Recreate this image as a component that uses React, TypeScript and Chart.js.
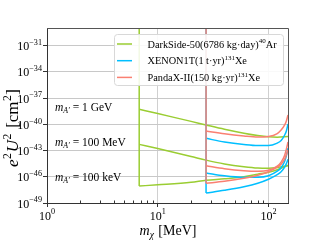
import { useEffect, useRef } from "react";
import { Chart, registerables } from "chart.js";

Chart.register(...registerables);

// ---------- data ----------
const darkSideThreshold = 6.8;
const xenonThreshold = 27.3;
const darkSideMass = [6.8, 10, 20, 27.3, 40, 60, 80, 100, 120, 150];
const darkSide1GeV = [5.25e-39, 1.66e-39, 2.14e-40, 8.32e-41, 2.69e-41, 9.55e-42, 5.13e-42, 3.63e-42, 3.31e-42, 3.98e-42];
const darkSide100MeV = [5.01e-43, 1.66e-43, 2.09e-44, 7.94e-45, 2.95e-45, 1.41e-45, 1.0e-45, 9.55e-46, 1.15e-45, 1.82e-45];
const darkSide100keV = [8.71e-48, 1.2e-47, 2.34e-47, 3.98e-47, 5.89e-47, 1.0e-46, 1.95e-46, 3.31e-46, 6.31e-46, 2.09e-45];
const xenonMass = [27.3, 40, 60, 80, 100, 120, 130, 140, 145, 150];
const pandax1GeV = [1.7e-41, 8.13e-42, 4.57e-42, 3.47e-42, 3.98e-42, 8.71e-42, 2.19e-41, 8.32e-41, 2.4e-40, 1.17e-39];
const xenon1GeV = [2.45e-42, 9.33e-43, 4.79e-43, 3.63e-43, 3.63e-43, 7.08e-43, 1.38e-42, 5.89e-42, 1.7e-41, 1.07e-40];
const pandax100MeV = [1.82e-45, 8.32e-46, 4.9e-46, 4.27e-46, 5.62e-46, 1.62e-45, 4.68e-45, 2.95e-44, 1.45e-43, 9.33e-43];
const xenon100MeV = [2.75e-46, 1.29e-46, 8.71e-47, 8.71e-47, 1.29e-46, 4.27e-46, 1.07e-45, 6.03e-45, 2.51e-44, 1.91e-43];
const pandax100keV = [1.78e-47, 3.02e-47, 6.76e-47, 1.48e-46, 3.72e-46, 1.23e-45, 2.75e-45, 1.02e-44, 3.16e-44, 1.12e-43];
const xenon100keV = [1.38e-48, 2.82e-48, 7.08e-48, 1.78e-47, 5.13e-47, 1.7e-46, 3.72e-46, 1.23e-45, 3.16e-45, 1.02e-44];

const xMin = 1;
const xMax = 150;
const yMin = 1e-49;
const yMax = 1e-29;
const xTickExponents = [0, 1, 2];
const yTickExponents = [-49, -46, -43, -40, -37, -34, -31];
const xMinorTicks = [2, 3, 4, 5, 6, 7, 8, 9, 20, 30, 40, 50, 60, 70, 80, 90];
const mediatorLabels = ["1 GeV", "100 MeV", "100 keV"];

const GREEN = "#9ACD32";
const BLUE = "#00BFFF";
const RED = "#FA8072";
const FONT = '"Liberation Serif", "DejaVu Serif", serif';

type Run = { t: string; it?: boolean; sup?: boolean; sub?: boolean; gap?: number };

function drawRuns(
  ctx: CanvasRenderingContext2D,
  runs: Run[],
  x: number,
  y: number,
  size: number,
  align: "left" | "center" | "right" = "left"
) {
  const setFont = (r: Run) => {
    const s = r.sup || r.sub ? size * 0.68 : size;
    ctx.font = `${r.it ? "italic " : ""}${s}px ${FONT}`;
  };
  let total = 0;
  const widths = runs.map((r) => {
    setFont(r);
    const w = ctx.measureText(r.t).width + (r.gap || 0);
    total += w;
    return w;
  });
  let cx = align === "left" ? x : align === "center" ? x - total / 2 : x - total;
  ctx.fillStyle = "#000";
  ctx.textAlign = "left";
  ctx.textBaseline = "alphabetic";
  runs.forEach((r, i) => {
    setFont(r);
    const dy = r.sup ? -size * 0.42 : r.sub ? size * 0.22 : 0;
    ctx.fillText(r.t, cx, y + dy);
    cx += widths[i];
  });
}

const legendItems: { color: string; runs: Run[] }[] = [
  { color: GREEN, runs: [{ t: "DarkSide-50(6786 kg·day)" }, { t: "40", sup: true }, { t: "Ar" }] },
  { color: BLUE, runs: [{ t: "XENON1T(1 t·yr)" }, { t: "131", sup: true }, { t: "Xe" }] },
  { color: RED, runs: [{ t: "PandaX-II(150 kg·yr)" }, { t: "131", sup: true }, { t: "Xe" }] },
];

const overlayPlugin = {
  id: "overlay",
  afterDatasetsDraw(chart: any) {
    const ctx: CanvasRenderingContext2D = chart.ctx;
    const a = chart.chartArea;
    const xs = chart.scales.x;
    const ys = chart.scales.y;
    ctx.save();

    // top & right frame
    ctx.strokeStyle = "#555";
    ctx.lineWidth = 1;
    ctx.beginPath();
    ctx.moveTo(a.left, Math.round(a.top) + 0.5);
    ctx.lineTo(Math.round(a.right) + 0.5, Math.round(a.top) + 0.5);
    ctx.lineTo(Math.round(a.right) + 0.5, a.bottom);
    ctx.stroke();

    // minor x ticks (inward)
    ctx.strokeStyle = "#333";
    ctx.beginPath();
    xMinorTicks.forEach((v) => {
      const px = Math.round(xs.getPixelForValue(v)) + 0.5;
      ctx.moveTo(px, a.bottom);
      ctx.lineTo(px, a.bottom - 2.5);
    });
    ctx.stroke();

    // legend
    const lx = 114.5, ly = 34.5, lw = 169, lh = 51;
    ctx.beginPath();
    ctx.roundRect(lx, ly, lw, lh, 3);
    ctx.fillStyle = "rgba(255,255,255,0.88)";
    ctx.fill();
    ctx.strokeStyle = "#d8d8d8";
    ctx.stroke();
    legendItems.forEach((item, i) => {
      const cy = 44 + i * 16.7;
      ctx.strokeStyle = item.color;
      ctx.lineWidth = 1.5;
      ctx.beginPath();
      ctx.moveTo(117, cy);
      ctx.lineTo(132, cy);
      ctx.stroke();
      drawRuns(ctx, item.runs, 147.5, cy + 3.5, 10.3);
    });

    // annotations
    mediatorLabels.forEach((lab, i) => {
      drawRuns(
        ctx,
        [{ t: "m", it: true }, { t: "A′", it: true, sub: true }, { t: " = " + lab }],
        55,
        110.5 + i * 35,
        11.5
      );
    });

    // y tick labels
    yTickExponents.forEach((e) => {
      const py = ys.getPixelForValue(Math.pow(10, e));
      drawRuns(ctx, [{ t: "10" }, { t: "−" + Math.abs(e), sup: true }], 42, py + 4.5, 12, "right");
    });
    // x tick labels
    xTickExponents.forEach((e) => {
      const px = xs.getPixelForValue(Math.pow(10, e));
      drawRuns(ctx, [{ t: "10" }, { t: String(e), sup: true }], px, 219.5, 12, "center");
    });

    // x title
    drawRuns(ctx, [{ t: "m", it: true }, { t: "χ", it: true, sub: true, gap: 1 }, { t: " [MeV]" }], 168, 235, 14, "center");

    // y title
    ctx.translate(18, 128);
    ctx.rotate(-Math.PI / 2);
    drawRuns(
      ctx,
      [
        { t: "e", it: true, gap: 0.5 },
        { t: "2", sup: true, gap: 1 },
        { t: "U", it: true, gap: 0.5 },
        { t: "2", sup: true, gap: 1.5 },
        { t: " [cm", gap: 0.5 },
        { t: "2", sup: true, gap: 0.5 },
        { t: "]" },
      ],
      0,
      0,
      17,
      "center"
    );
    ctx.restore();
  },
};

function pts(xsArr: number[], ysArr: number[]) {
  return xsArr.map((x, i) => ({ x, y: ysArr[i] }));
}

export default function App() {
  const ref = useRef<HTMLCanvasElement | null>(null);
  useEffect(() => {
    if (!ref.current) return;
    const curve = (label: string, data: any[], color: string, order: number, straight = false) => ({
      label,
      data,
      borderColor: color,
      backgroundColor: color,
      borderWidth: 1.5,
      pointRadius: 0,
      fill: false,
      order,
      tension: straight ? 0 : 0.4,
      cubicInterpolationMode: straight ? "default" : "monotone",
    });
    const chart = new Chart(ref.current, {
      type: "line",
      data: {
        datasets: [
          curve("DarkSide-50", [
            { x: darkSideThreshold, y: yMax },
            { x: darkSideThreshold, y: darkSide100keV[0] },
          ], GREEN, 2, true),
          curve("DarkSide-50 1GeV", pts(darkSideMass, darkSide1GeV), GREEN, 2),
          curve("DarkSide-50 100MeV", pts(darkSideMass, darkSide100MeV), GREEN, 2),
          curve("DarkSide-50 100keV", pts(darkSideMass, darkSide100keV), GREEN, 2),
          curve("XENON1T", [
            { x: xenonThreshold, y: yMax },
            { x: xenonThreshold, y: xenon100keV[0] },
          ], BLUE, 1, true),
          curve("XENON1T 1GeV", pts(xenonMass, xenon1GeV), BLUE, 1),
          curve("XENON1T 100MeV", pts(xenonMass, xenon100MeV), BLUE, 1),
          curve("XENON1T 100keV", pts(xenonMass, xenon100keV), BLUE, 1),
          curve("PandaX-II", [
            { x: xenonThreshold, y: yMax },
            { x: xenonThreshold, y: pandax100keV[0] },
          ], RED, 0, true),
          curve("PandaX-II 1GeV", pts(xenonMass, pandax1GeV), RED, 0),
          curve("PandaX-II 100MeV", pts(xenonMass, pandax100MeV), RED, 0),
          curve("PandaX-II 100keV", pts(xenonMass, pandax100keV), RED, 0),
        ] as any,
      },
      options: {
        animation: false,
        responsive: false,
        maintainAspectRatio: false,
        devicePixelRatio: 1,
        layout: { padding: { left: 0, top: 28, right: 32, bottom: 0 } },
        plugins: { legend: { display: false }, tooltip: { enabled: false } },
        scales: {
          x: {
            type: "logarithmic",
            min: xMin,
            max: xMax,
            afterBuildTicks: (s: any) => {
              s.ticks = xTickExponents.map((e) => ({ value: Math.pow(10, e) }));
            },
            afterFit: (s: any) => {
              s.height = 37;
            },
            ticks: { display: false },
            grid: { color: "#d0d0d0", lineWidth: 1, tickLength: 4, tickColor: "#333" },
            border: { color: "#333", width: 1 },
          },
          y: {
            type: "logarithmic",
            min: yMin,
            max: yMax,
            afterBuildTicks: (s: any) => {
              s.ticks = yTickExponents.map((e) => ({ value: Math.pow(10, e) }));
            },
            afterFit: (s: any) => {
              s.width = 47;
            },
            ticks: { display: false },
            grid: { color: "#c8c8c8", lineWidth: 1, tickLength: 4, tickColor: "#333" },
            border: { color: "#333", width: 1 },
          },
        },
      } as any,
      plugins: [overlayPlugin],
    });
    return () => chart.destroy();
  }, []);
  return (
    <div style={{ position: "absolute", left: 0, top: 0, width: 320, height: 240, background: "#fff" }}>
      <canvas ref={ref} width={320} height={240} style={{ display: "block", width: 320, height: 240 }} />
    </div>
  );
}
